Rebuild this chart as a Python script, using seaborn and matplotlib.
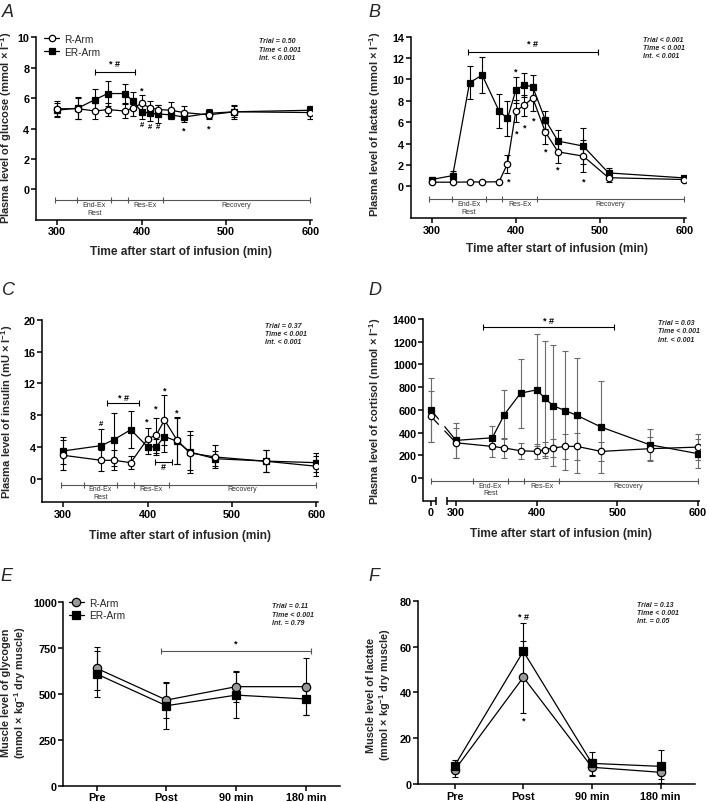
import numpy as np
import pandas as pd
import matplotlib
matplotlib.use("Agg")
import matplotlib.pyplot as plt
import matplotlib.transforms as mtransforms
import seaborn as sns

sns.set_theme(style="ticks")
plt.rcParams['font.family'] = ['Liberation Sans', 'DejaVu Sans']
plt.rcParams['mathtext.fontset'] = 'custom'
plt.rcParams['mathtext.rm'] = 'Liberation Sans:bold'
plt.rcParams['mathtext.it'] = 'Liberation Sans:bold:italic'
plt.rcParams['mathtext.bf'] = 'Liberation Sans:bold'

# ---------------- data ----------------
# A: plasma glucose
t_glu = [300, 325, 345, 360, 380, 390, 400, 410, 420, 435, 450, 480, 510, 600]
glu_r = [5.3, 5.3, 5.15, 5.25, 5.15, 5.35, 5.65, 5.35, 5.25, 5.2, 5.05, 4.9, 5.1, 5.05]
glu_r_sd = [0.5, 0.7, 0.5, 0.4, 0.45, 0.55, 0.55, 0.45, 0.3, 0.55, 0.45, 0.25, 0.45, 0.45]
glu_er = [5.2, 5.35, 5.9, 6.3, 6.3, 5.8, 5.1, 5.0, 4.95, 4.9, 4.75, 5.0, 5.1, 5.2]
glu_er_sd = [0.45, 0.7, 0.7, 0.8, 0.65, 0.6, 0.5, 0.5, 0.6, 0.3, 0.35, 0.3, 0.35, 0.25]

# B: plasma lactate
t_lac = [300, 325, 345, 360, 380, 390, 400, 410, 420, 435, 450, 480, 510, 600]
lac_r = [0.38, 0.38, 0.4, 0.4, 0.42, 2.1, 7.05, 7.58, 8.27, 5.07, 3.22, 2.82, 0.8, 0.63]
lac_r_sd = [0.1, 0.1, 0.1, 0.1, 0.1, 0.85, 1.05, 1.0, 1.2, 1.1, 1.0, 1.5, 0.4, 0.15]
lac_er = [0.63, 1.0, 9.7, 10.4, 7.05, 6.35, 9.0, 9.5, 9.3, 6.2, 4.23, 3.76, 1.25, 0.78]
lac_er_sd = [0.2, 0.45, 1.55, 1.7, 1.55, 1.65, 1.2, 1.1, 1.15, 0.8, 1.05, 1.65, 0.45, 0.15]

# C: plasma insulin
t_ins = [300, 345, 360, 380, 400, 410, 420, 435, 450, 480, 540, 600]
ins_r = [2.93, 2.3, 2.3, 2.0, 5.03, 5.45, 7.38, 4.82, 3.23, 2.72, 2.18, 1.55]
ins_r_sd = [1.9, 1.3, 1.25, 0.8, 1.4, 2.2, 3.1, 2.95, 2.2, 1.45, 1.4, 1.25]
ins_er = [3.48, 4.15, 4.9, 6.16, 4.0, 4.0, 5.3, 4.7, 3.35, 2.5, 2.2, 2.0]
ins_er_sd = [1.7, 2.05, 3.35, 2.3, 0.9, 1.0, 1.95, 2.9, 2.6, 0.95, 1.35, 1.2]

# D: plasma cortisol
t_cor = [0, 300, 345, 360, 380, 400, 410, 420, 435, 450, 480, 540, 600]
cor_r = [542, 310, 278, 264, 240, 234, 249, 264, 278, 278, 234, 258, 272]
cor_r_sd = [227, 130, 95, 90, 70, 68, 70, 78, 110, 118, 85, 100, 118]
cor_er = [600, 331, 354, 559, 747, 776, 703, 638, 594, 551, 448, 293, 214]
cor_er_sd = [282, 155, 100, 215, 305, 490, 505, 530, 527, 506, 402, 140, 130]

# E / F: muscle glycogen and lactate
biopsy = ['Pre', 'Post', '90 min', '180 min']
gly_r = [640, 467, 540, 540]
gly_r_sd = [116, 100, 83, 156]
gly_er = [609, 436, 494, 473]
gly_er_sd = [125, 125, 125, 88]
mlac_r = [6.1, 46.6, 7.3, 5.1]
mlac_r_sd = [3.2, 15.8, 3.7, 3.0]
mlac_er = [8.0, 57.9, 9.0, 7.7]
mlac_er_sd = [2.5, 12.4, 5.1, 7.1]

stats = {
    'A': 'Trial = 0.50\nTime < 0.001\nInt. < 0.001',
    'B': 'Trial < 0.001\nTime < 0.001\nInt. < 0.001',
    'C': 'Trial = 0.37\nTime < 0.001\nInt. < 0.001',
    'D': 'Trial = 0.03\nTime < 0.001\nInt. < 0.001',
    'E': 'Trial = 0.11\nTime < 0.001\nInt. = 0.79',
    'F': 'Trial = 0.13\nTime < 0.001\nInt. = 0.05',
}
phase_bounds = [297, 324, 364, 384, 425, 600]
xlabel_time = 'Time after start of infusion (min)'

# ---------------- figure ----------------
W, H = 709, 803
fig = plt.figure(figsize=(W / 100, H / 100), dpi=100)


def add_ax(left, right, top, bottom):
    return fig.add_axes([left / W, 1 - bottom / H, (right - left) / W, (bottom - top) / H])


def style(ax):
    for s in ['top', 'right']:
        ax.spines[s].set_visible(False)
    for s in ['left', 'bottom']:
        ax.spines[s].set_linewidth(1.1)
        ax.spines[s].set_color('black')
    ax.tick_params(direction='out', length=3.5, width=1.1, labelsize=7.8, pad=1.2, colors='black')
    for lab in ax.get_xticklabels() + ax.get_yticklabels():
        lab.set_fontweight('bold')


def series(ax, x, y, sd, marker, face, ms, ecol='black', z=3):
    ax.errorbar(x, y, yerr=sd, fmt='none', ecolor=ecol, elinewidth=0.8,
                capsize=2.3, capthick=0.8, zorder=2)
    df = pd.DataFrame({'x': x, 'y': y})
    sns.lineplot(data=df, x='x', y='y', ax=ax, color='black', linewidth=0.9,
                 marker=marker, markersize=ms, markerfacecolor=face,
                 markeredgecolor='black', markeredgewidth=0.9, zorder=z,
                 sort=False, legend=False)
    return ax.lines[-1]


def phase_bar(ax, bounds, yb=0.108, yt1=0.082, yt2=0.04):
    tr = mtransforms.blended_transform_factory(ax.transData, ax.transAxes)
    ax.plot(bounds, [yb] * len(bounds), transform=tr, color='#555555', lw=0.8,
            marker='|', markersize=4.5, markeredgewidth=0.8, clip_on=False)
    kw = dict(transform=tr, ha='center', va='center', fontsize=5, color='#333333')
    ax.text((bounds[1] + bounds[2]) / 2, yt1, 'End-Ex', **kw)
    ax.text((bounds[1] + bounds[2]) / 2, yt2, 'Rest', **kw)
    ax.text((bounds[3] + bounds[4]) / 2, yt1, 'Res-Ex', **kw)
    ax.text((bounds[4] + bounds[5]) / 2, yt1, 'Recovery', **kw)


def mark(ax, x, y, txt, size=6.5):
    ax.text(x, y, txt, ha='center', va='center', fontsize=size, fontweight='bold', color='black')


def bracket(ax, x0, x1, y, txt, ty, color='black'):
    ax.plot([x0, x1], [y, y], color=color, lw=0.8, marker='|', markersize=4.5,
            markeredgewidth=0.8, zorder=5)
    mark(ax, (x0 + x1) / 2, ty, txt)


def stat_text(ax, x, y, key):
    ax.text(x, y, stats[key], transform=ax.transAxes, ha='left', va='top', fontsize=5,
            fontweight='bold', style='italic', linespacing=1.25)


def letter(x, y, s):
    fig.text(x / W, 1 - y / H, s, fontsize=13, style='italic', ha='left', va='top')


def labels(ax, ylab, xlab, ycoord, xcoord, ysize=8):
    ax.set_ylabel(ylab, fontsize=ysize, fontweight='bold', linespacing=1.1)
    ax.set_xlabel(xlab, fontsize=8.6, fontweight='bold')
    ax.yaxis.set_label_coords(*ycoord)
    if xcoord is not None:
        ax.xaxis.set_label_coords(*xcoord)


# ---------------- A ----------------
axA = add_ax(36, 312, 38.3, 220.7)
lA_er = series(axA, t_glu, glu_er, glu_er_sd, 's', 'black', 4.3, z=3)
lA_r = series(axA, t_glu, glu_r, glu_r_sd, 'o', 'white', 4.6, z=4)
axA.set_xlim(275, 602)
axA.set_ylim(-2, 10)
axA.set_yticks(np.arange(0, 11, 2))
axA.set_xticks([300, 400, 500, 600])
labels(axA, 'Plasma level of glucose (mmol × l$^{-1}$)', xlabel_time, (-0.079, 0.51), (0.525, -0.137))
phase_bar(axA, phase_bounds)
bracket(axA, 345, 392, 7.75, '* #', 8.25)
mark(axA, 400, 6.5, '*')
for xx, yy in [(400, 4.25), (410, 4.1), (420, 4.1)]:
    mark(axA, xx, yy, '#', 5.5)
mark(axA, 450, 3.9, '*')
mark(axA, 480, 4.0, '*')
stat_text(axA, 0.808, 1.0, 'A')
lA_r.set_label('R-Arm')
lA_er.set_label('ER-Arm')
axA.legend(handles=[lA_r, lA_er], loc='upper left', bbox_to_anchor=(0.03, 1.02),
           frameon=False, fontsize=7.3, handlelength=1.5, handletextpad=0.5,
           labelspacing=0.3, borderpad=0, borderaxespad=0)
style(axA)
letter(2, 4, 'A')

# ---------------- B ----------------
axB = add_ax(410.6, 686, 37.7, 219.3)
series(axB, t_lac, lac_er, lac_er_sd, 's', 'black', 4.3, z=3)
series(axB, t_lac, lac_r, lac_r_sd, 'o', 'white', 4.6, z=4)
axB.set_xlim(275, 602)
axB.set_ylim(-3, 14)
axB.set_yticks(np.arange(0, 15, 2))
axB.set_xticks([300, 400, 500, 600])
labels(axB, 'Plasma level of lactate (mmol × l$^{-1}$)', xlabel_time, (-0.101, 0.525), (0.53, -0.132))
phase_bar(axB, phase_bounds, yb=0.106)
bracket(axB, 343, 497, 12.6, '* #', 13.35)
mark(axB, 400, 10.8, '*')
for xx, yy in [(391, 0.47), (401, 5.0), (411, 5.5), (421, 6.2), (435, 3.3), (450, 1.57), (480, 0.53)]:
    mark(axB, xx, yy, '*')
stat_text(axB, 0.845, 1.005, 'B')
style(axB)
letter(368, 4, 'B')

# ---------------- C ----------------
axC = add_ax(42.2, 318, 321, 503.3)
series(axC, t_ins, ins_er, ins_er_sd, 's', 'black', 4.3, z=3)
series(axC, t_ins, ins_r, ins_r_sd, 'o', 'white', 4.6, z=4)
axC.set_xlim(275, 602)
axC.set_ylim(-3, 20)
axC.set_yticks(np.arange(0, 21, 4))
axC.set_xticks([300, 400, 500, 600])
labels(axC, 'Plasma level of insulin (mU × l$^{-1}$)', xlabel_time, (-0.097, 0.5), (0.5, -0.146))
phase_bar(axC, phase_bounds, yb=0.097, yt1=0.077, yt2=0.033)
mark(axC, 345, 6.9, '#', 5.5)
bracket(axC, 352, 390, 9.5, '* #', 10.2)
for xx, yy in [(399, 7.2), (409, 8.9), (420, 11.2), (435, 8.4)]:
    mark(axC, xx, yy, '*')
bracket(axC, 408.7, 429, 2.1, '#', 1.5)
stat_text(axC, 0.808, 0.99, 'C')
style(axC)
letter(2, 282, 'C')

# ---------------- D ----------------
zero_pos = 269  # position of t = 0 on the broken axis
x_cor = [t if t >= 300 else zero_pos + t for t in t_cor]
axD = add_ax(423.3, 699.7, 320, 501.7)
for vals, sds, mk, fc, ms, z in [(cor_er, cor_er_sd, 's', 'black', 4.3, 3),
                                 (cor_r, cor_r_sd, 'o', 'white', 4.6, 4)]:
    series(axD, x_cor[1:], vals[1:], sds[1:], mk, fc, ms, ecol='#6a6a6a', z=z)
    series(axD, x_cor[:1], vals[:1], sds[:1], mk, fc, ms, ecol='#6a6a6a', z=z)
    # broken connecting line between t = 0 and t = 300
    for f0, f1 in [(0.0, 0.3), (0.55, 1.0)]:
        xs = [x_cor[0] + f * (x_cor[1] - x_cor[0]) for f in (f0, f1)]
        ys = [vals[0] + f * (vals[1] - vals[0]) for f in (f0, f1)]
        axD.plot(xs, ys, color='black', lw=0.9, zorder=z - 0.5)
axD.set_xlim(259.5, 602)
axD.set_ylim(-200, 1400)
axD.set_yticks(np.arange(0, 1401, 200))
axD.set_xticks([zero_pos, 300, 400, 500, 600])
axD.set_xticklabels(['0', '300', '400', '500', '600'])
labels(axD, 'Plasma level of cortisol (nmol × l$^{-1}$)', xlabel_time, (-0.147, 0.495), (0.5, -0.146))
style(axD)
axD.spines['bottom'].set_visible(False)
trD = mtransforms.blended_transform_factory(axD.transData, axD.transAxes)
axD.plot([259.5, 275.5], [0, 0], transform=trD, color='black', lw=1.1, clip_on=False,
         solid_capstyle='butt')
axD.plot([288.5, 602], [0, 0], transform=trD, color='black', lw=1.1, clip_on=False,
         solid_capstyle='butt')
axD.plot([275.5, 288.5], [0, 0], transform=trD, color='black', lw=0, marker='|',
         markersize=6, markeredgewidth=1.1, clip_on=False)
phase_bar(axD, [zero_pos, 321.5, 364, 384.7, 427.7, 600], yb=0.11, yt1=0.086, yt2=0.046)
bracket(axD, 333, 496, 1333, '* #', 1385)
stat_text(axD, 0.85, 1.0, 'D')
letter(368, 282, 'D')

# ---------------- E ----------------
pos = list(range(len(biopsy)))
axE = add_ax(63.3, 340, 603.3, 786.7)
lE_r = series(axE, pos, gly_r, gly_r_sd, 'o', '#9a9a9a', 6.0, z=3)
lE_er = series(axE, pos, gly_er, gly_er_sd, 's', 'black', 5.6, z=4)
axE.set_xlim(-0.48, 3.49)
axE.set_ylim(0, 1000)
axE.set_yticks([0, 250, 500, 750, 1000])
axE.set_xticks(pos)
axE.set_xticklabels(biopsy)
labels(axE, 'Muscle level of glycogen\n(mmol × kg$^{-1}$ dry muscle)', '', (-0.128, 0.51), None, 7.8)
bracket(axE, 0.92, 3.07, 733, '*', 776, color='#555555')
stat_text(axE, 0.754, 1.0, 'E')
lE_r.set_label('R-Arm')
lE_er.set_label('ER-Arm')
axE.legend(handles=[lE_r, lE_er], loc='upper left', bbox_to_anchor=(0.02, 1.025),
           frameon=False, fontsize=7.3, handlelength=1.5, handletextpad=0.5,
           labelspacing=0.25, borderpad=0, borderaxespad=0)
style(axE)
letter(0, 568, 'E')

# ---------------- F ----------------
axF = add_ax(418.3, 695, 601.7, 785)
series(axF, pos, mlac_r, mlac_r_sd, 'o', '#9a9a9a', 6.0, z=3)
series(axF, pos, mlac_er, mlac_er_sd, 's', 'black', 5.6, z=4)
axF.set_xlim(-0.53, 3.5)
axF.set_ylim(0, 80)
axF.set_yticks([0, 20, 40, 60, 80])
axF.set_xticks(pos)
axF.set_xticklabels(biopsy)
labels(axF, 'Muscle level of lactate\n(mmol × kg$^{-1}$ dry muscle)', '', (-0.091, 0.49), None, 7.8)
mark(axF, 1, 73.3, '* #')
mark(axF, 1, 28.1, '*')
stat_text(axF, 0.79, 1.0, 'F')
style(axF)
letter(368, 568, 'F')

fig.savefig('out.png', dpi=100)
